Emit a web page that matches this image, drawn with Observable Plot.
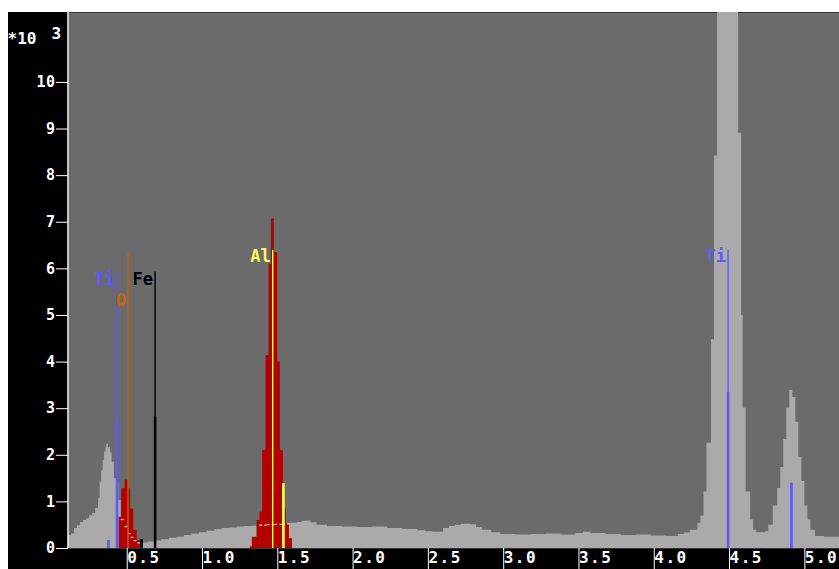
<!DOCTYPE html>
<html>
<head>
<meta charset="utf-8">
<script src="https://cdn.jsdelivr.net/npm/d3@7"></script>
<script src="https://cdn.jsdelivr.net/npm/@observablehq/plot@0.6"></script>
<style>
  html, body { margin: 0; padding: 0; background: #ffffff; }
  #chart { position: absolute; left: 8px; top: 12px; }
  #chart svg { background: #000000; display: block; }
  #chart g[aria-label="x-axis tick label"] text { letter-spacing: 1.5px; }
  #chart g[aria-label="y-axis tick label"] text { letter-spacing: 0.5px; }
</style>
</head>
<body>
<div id="chart"></div>
<script>
// Spectrum (keV, counts x 10^3), step-after breakpoints
const specE = [0.13,0.15,0.17,0.19,0.21,0.23,0.25,0.27,0.29,0.31,0.33,0.34,0.35,0.36,0.37,0.38,0.385,0.395,0.41,0.42,0.435,0.45,0.465,0.48,0.505,0.53,0.545,0.565,0.59,0.61,0.63,0.66,0.70,0.75,0.80,0.85,0.90,0.95,1.00,1.05,1.10,1.15,1.20,1.25,1.30,1.35,1.40,1.45,1.50,1.55,1.60,1.65,1.68,1.71,1.74,1.78,1.85,1.95,2.05,2.15,2.25,2.35,2.45,2.50,2.55,2.62,2.66,2.70,2.74,2.80,2.84,2.88,2.94,3.00,3.10,3.20,3.30,3.40,3.50,3.55,3.60,3.70,3.80,3.90,4.00,4.10,4.18,4.22,4.26,4.31,4.33,4.35,4.37,4.40,4.42,4.44,4.46,4.48,4.50,4.52,4.54,4.56,4.58,4.60,4.61,4.63,4.66,4.68,4.70,4.76,4.78,4.81,4.84,4.86,4.88,4.90,4.92,4.94,4.96,4.98,5.00,5.02,5.04,5.06,5.09,5.15,5.25];
const specC = [0.28,0.31,0.43,0.49,0.56,0.60,0.64,0.70,0.75,0.86,1.07,1.42,1.67,1.89,2.07,2.18,2.24,2.16,2.05,1.85,1.50,1.42,1.03,0.62,0.47,0.32,0.24,0.17,0.12,0.09,0.12,0.14,0.16,0.19,0.22,0.24,0.28,0.31,0.34,0.37,0.40,0.43,0.44,0.46,0.47,0.48,0.50,0.51,0.52,0.53,0.54,0.56,0.58,0.59,0.55,0.50,0.47,0.46,0.45,0.46,0.43,0.41,0.38,0.36,0.35,0.43,0.47,0.50,0.52,0.51,0.45,0.39,0.34,0.30,0.29,0.30,0.31,0.29,0.32,0.35,0.32,0.30,0.28,0.29,0.27,0.26,0.30,0.33,0.39,0.54,0.69,1.21,2.26,4.48,8.42,12.5,15.0,17.5,18.5,17.5,15.0,12.5,8.91,5.00,3.01,1.21,0.61,0.39,0.34,0.36,0.50,0.91,1.29,1.74,2.34,3.01,3.39,3.24,2.71,1.96,1.44,0.91,0.61,0.39,0.26,0.24,0.24];

// Fitted peaks (red)
const oPeakE = [0.466,0.483,0.506,0.528,0.543,0.563,0.586,0.608,0.621];
const oPeakC = [0.67,1.28,1.47,1.28,0.85,0.39,0.17,0.09,0];
const alPeakE = [1.338,1.351,1.382,1.402,1.420,1.442,1.462,1.477,1.497,1.519,1.537,1.557,1.577,1.597,1.617];
const alPeakC = [0.04,0.24,0.60,0.78,2.10,4.14,6.10,7.07,6.35,4.00,2.10,0.85,0.53,0.21,0];

// Element marker lines
const lineE     = [0.395, 0.452, 0.525, 0.615, 0.705, 1.486, 1.557, 4.510, 4.931];
const lineTop   = [0.17,  5.92,  6.31,  0.19,  5.93,  6.40,  1.39,  6.40,  1.40];
const lineThick = [0.17,  2.80,  0,     0.19,  2.82,  0,     1.39,  3.35,  1.40];
const lineColor = ["#5a5aff","#5a5aff","#c86400","#000000","#000000","#ffff55","#ffff55","#5a5aff","#5a5aff"];

// Element labels
const labelText  = ["Ti", "O", "Fe", "Al", "Ti"];
const labelE     = [0.452, 0.525, 0.705, 1.486, 4.510];
const labelY     = [5.92, 5.47, 5.92, 6.40, 6.40];
const labelColor = ["#5a5aff", "#c86400", "#000000", "#ffff55", "#5a5aff"];

const xTicks = [0.5, 1.0, 1.5, 2.0, 2.5, 3.0, 3.5, 4.0, 4.5, 5.0];
const yTicks = [0, 1, 2, 3, 4, 5, 6, 7, 8, 9, 10];

const spec = specE.map((e, i) => ({e, c: specC[i]}));
const oPeak = oPeakE.map((e, i) => ({e, c: oPeakC[i]}));
const alPeak = alPeakE.map((e, i) => ({e, c: alPeakC[i]}));
const lines = lineE.map((e, i) => ({e, top: lineTop[i], thick: lineThick[i], color: lineColor[i]}));
const labels = labelE.map((e, i) => ({e, y: labelY[i], text: labelText[i], color: labelColor[i]}));

// background level hidden under the red peaks, shown as light dashes
function stepVal(arrE, arrC, x) {
  let v = 0;
  for (let i = 0; i < arrE.length; i++) if (arrE[i] <= x) v = arrC[i];
  if (x >= arrE[arrE.length - 1]) v = 0;
  return v;
}
const dashes = [];
for (let i = 0; i < specE.length - 1; i++) {
  const e1 = specE[i], e2 = specE[i + 1], c = specC[i];
  for (const [pe, pc] of [[oPeakE, oPeakC], [alPeakE, alPeakC]]) {
    const lo = Math.max(e1, pe[0]), hi = Math.min(e2, pe[pe.length - 1]);
    if (hi - lo > 0.004) {
      const mid = (lo + hi) / 2;
      if (stepVal(pe, pc, mid) > c) dashes.push({x1: lo, x2: hi, y: c});
    }
  }
}

const mono = "DejaVu Sans Mono, monospace";

const plot = Plot.plot({
  width: 831,
  height: 557,
  marginLeft: 60,
  marginRight: 0,
  marginTop: 0,
  marginBottom: 21,
  style: {background: "#000000", color: "#ffffff", fontFamily: mono},
  x: {domain: [0.13, 5.25]},
  y: {domain: [0, 11.5]},
  marks: [
    Plot.frame({fill: "#6b6b6b", stroke: null}),
    Plot.areaY(spec, {x: "e", y: "c", curve: "step-after", fill: "#aaaaaa", clip: true}),
    Plot.areaY(oPeak, {x: "e", y: "c", curve: "step-after", fill: "#b40000", clip: true}),
    Plot.areaY(alPeak, {x: "e", y: "c", curve: "step-after", fill: "#b40000", clip: true}),
    Plot.ruleY(dashes, {x1: "x1", x2: "x2", y: "y", stroke: "#cfcfcf", strokeWidth: 1.2, strokeDasharray: "3,2"}),
    Plot.ruleX(lines, {x: "e", y1: 0, y2: "top", stroke: "color", strokeWidth: 1.4}),
    Plot.ruleX(lines.filter(d => d.thick > 0), {x: "e", y1: 0, y2: "thick", stroke: "color", strokeWidth: 2.6}),
    Plot.text(labels, {x: "e", y: "y", text: "text", fill: "color", textAnchor: "end", lineAnchor: "top", dx: -2,
      fontSize: 17, fontWeight: "bold", fontFamily: mono}),
    Plot.ruleX([0.13], {stroke: "#ffffff", strokeWidth: 1.5, dx: -0.5}),
    Plot.axisY({ticks: yTicks, tickSize: 12, tickPadding: 1, tickFormat: d => String(d),
      fontSize: 15, fontWeight: "bold", fontFamily: mono, stroke: "#ffffff", fill: "#ffffff", label: null}),
    Plot.axisX({ticks: xTicks, tickSize: 21, tickPadding: -18, tickFormat: d3.format(".1f"), textAnchor: "start", lineAnchor: "top", dx: 3,
      fontSize: 16, fontWeight: "bold", fontFamily: mono, stroke: "#ffffff", fill: "#ffffff", label: null}),
    Plot.text(["*10"], {frameAnchor: "top-left", text: d => d, dx: -61, dy: 31, lineAnchor: "bottom", textAnchor: "start",
      fontSize: 16, fontWeight: "bold", fontFamily: mono, fill: "#ffffff"}),
    Plot.text(["3"], {frameAnchor: "top-left", text: d => d, dx: -17, dy: 26, lineAnchor: "bottom", textAnchor: "start",
      fontSize: 16, fontWeight: "bold", fontFamily: mono, fill: "#ffffff"})
  ]
});
document.getElementById("chart").appendChild(plot);
</script>
</body>
</html>
